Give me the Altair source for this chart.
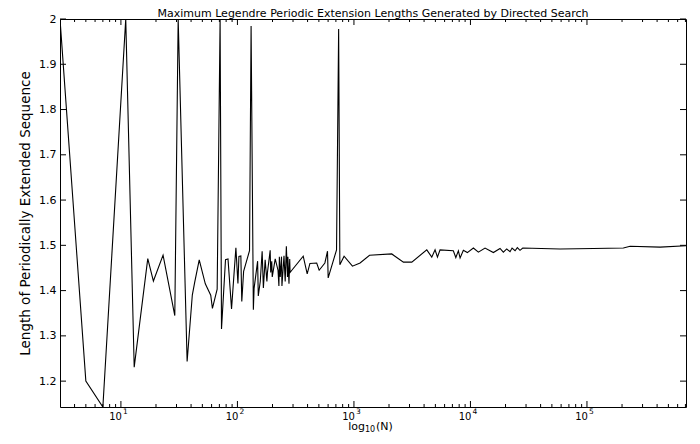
import altair as alt
import pandas as pd

# ---- data ----
N = [3, 5, 7, 11, 13, 17, 19, 23, 29, 31, 37, 41, 43, 47, 53, 59, 61, 67, 71, 73,
     79, 83, 89, 97, 101, 103, 107, 109, 113, 127, 131, 137,
     139, 149, 151, 157, 163, 167, 173, 179, 181, 191, 193, 197, 199, 211, 223, 227,
     229, 233, 239, 241, 251, 257, 263, 269, 271, 277, 281, 283, 293,
     367, 397, 419, 479, 503, 563, 593, 601, 709, 739, 757, 823, 971, 1129, 1361,
     2111, 2659, 3137, 4219, 4657, 4969, 5209, 5483, 7129, 7489, 7877, 8147, 8693,
     9403, 10597, 11699, 13339, 15727, 17939, 19157, 20479, 21871, 22751, 24151,
     25253, 26627, 28109, 58771, 113537, 205327, 234473, 423901, 708000]
L = [2.0, 1.2, 1.142857, 2.0, 1.2308, 1.4706, 1.4211, 1.4783, 1.3448, 2.0,
     1.2432, 1.3902, 1.4186, 1.4681, 1.4151, 1.3898, 1.3607, 1.4030, 2.0, 1.3151,
     1.4684, 1.4699, 1.3596, 1.4948, 1.4158, 1.4757, 1.4766, 1.3761, 1.4425, 1.4882,
     1.9847, 1.3577,
     1.405, 1.465, 1.388, 1.42, 1.487, 1.406, 1.468, 1.42, 1.44, 1.489, 1.44, 1.465,
     1.43, 1.47, 1.445, 1.41, 1.475, 1.43, 1.475, 1.41, 1.477, 1.42, 1.498, 1.43,
     1.475, 1.415, 1.47, 1.44, 1.445,
     1.476, 1.437, 1.46, 1.461, 1.445, 1.461, 1.487, 1.428, 1.49, 1.978, 1.457,
     1.476, 1.454, 1.461, 1.478,
     1.481, 1.463, 1.463, 1.49, 1.474, 1.49, 1.474, 1.49, 1.488, 1.473, 1.488, 1.472,
     1.489, 1.484, 1.494, 1.485, 1.494, 1.484, 1.493, 1.485, 1.492, 1.486, 1.494,
     1.488, 1.495, 1.489, 1.494, 1.492, 1.493, 1.494, 1.498, 1.496, 1.499]

x_domain = [3, 708000]
y_domain = [8 / 7, 2.0]
y_ticks = [1.2, 1.3, 1.4, 1.5, 1.6, 1.7, 1.8, 1.9, 2.0]
x_major = [10, 100, 1000, 10000, 100000]
x_exp = ["1", "2", "3", "4", "5"]
x_minor = [m * d for d in [1, 10, 100, 1000, 10000, 100000] for m in range(2, 10)
           if x_domain[0] < m * d < x_domain[1]]

title_text = "Maximum Legendre Periodic Extension Lengths Generated by Directed Search"
ytitle = "Length of Periodically Extended Sequence"

W, H = 626, 388
FONT = "DejaVu Sans"

df = pd.DataFrame({"N": N, "L": L})
xs = alt.Scale(type="log", domain=x_domain, nice=False)
ys = alt.Scale(domain=y_domain, nice=False, zero=False)

line = alt.Chart(df).mark_line(color="black", strokeWidth=1.1, clip=True).encode(
    x=alt.X("N:Q", scale=xs, axis=alt.Axis(labels=False, ticks=False, domain=False,
                                           grid=False, title=None)),
    y=alt.Y("L:Q", scale=ys, axis=alt.Axis(values=y_ticks, format=".1~f", ticks=False,
                                           tickSize=0, domain=False, grid=False,
                                           labelFont=FONT, labelFontSize=11,
                                           labelColor="black", labelPadding=4,
                                           title=ytitle, titleFont=FONT,
                                           titleFontSize=13.5, titleFontWeight="normal",
                                           titleColor="black", titlePadding=6)),
)

ydf = pd.DataFrame({"v": y_ticks})
ytl = alt.Chart(ydf).mark_rule(color="black").encode(
    y=alt.Y("v:Q", scale=ys), x=alt.value(0), x2=alt.value(6))
ytr = alt.Chart(ydf).mark_rule(color="black").encode(
    y=alt.Y("v:Q", scale=ys), x=alt.value(W - 6), x2=alt.value(W))

majdf = pd.DataFrame({"N": x_major, "base": ["10"] * len(x_major), "exp": x_exp})
mindf = pd.DataFrame({"N": x_minor})


def xticks(d, length):
    b = alt.Chart(d).mark_rule(color="black").encode(
        x=alt.X("N:Q", scale=xs), y=alt.value(H - length), y2=alt.value(H))
    t = alt.Chart(d).mark_rule(color="black").encode(
        x=alt.X("N:Q", scale=xs), y=alt.value(0), y2=alt.value(length))
    return [b, t]


lab10 = alt.Chart(majdf).mark_text(font=FONT, fontSize=10, align="right",
                                   baseline="alphabetic", dx=1, color="black").encode(
    x=alt.X("N:Q", scale=xs), y=alt.value(H + 13), text="base:N")
labexp = alt.Chart(majdf).mark_text(font=FONT, fontSize=7.5, align="left",
                                    baseline="alphabetic", dx=2, color="black").encode(
    x=alt.X("N:Q", scale=xs), y=alt.value(H + 7), text="exp:N")

tdf = pd.DataFrame({"t": [title_text]})
ttl = alt.Chart(tdf).mark_text(font=FONT, fontSize=11, align="center",
                               baseline="alphabetic", color="black").encode(
    x=alt.value(W / 2), y=alt.value(-2), text="t:N")

xt = pd.DataFrame({"a": ["log"], "b": ["10"], "c": ["(N)"]})
xt1 = alt.Chart(xt).mark_text(font=FONT, fontSize=11, align="right",
                              baseline="alphabetic", color="black").encode(
    x=alt.value(305), y=alt.value(H + 22.5), text="a:N")
xt2 = alt.Chart(xt).mark_text(font=FONT, fontSize=8, align="left",
                              baseline="alphabetic", color="black").encode(
    x=alt.value(305), y=alt.value(H + 25), text="b:N")
xt3 = alt.Chart(xt).mark_text(font=FONT, fontSize=11, align="left",
                              baseline="alphabetic", color="black").encode(
    x=alt.value(316), y=alt.value(H + 22.5), text="c:N")

chart = alt.layer(
    line, ytl, ytr, *xticks(majdf, 6), *xticks(mindf, 3),
    lab10, labexp, ttl, xt1, xt2, xt3
).properties(
    width=W, height=H,
    autosize=alt.AutoSizeParams(type="none"),
    padding={"left": 52, "top": 11, "right": 6, "bottom": 26},
    background="white",
).configure_view(stroke="black", strokeWidth=1)

chart.save("out.html", embed_options={"renderer": "svg", "actions": False})
